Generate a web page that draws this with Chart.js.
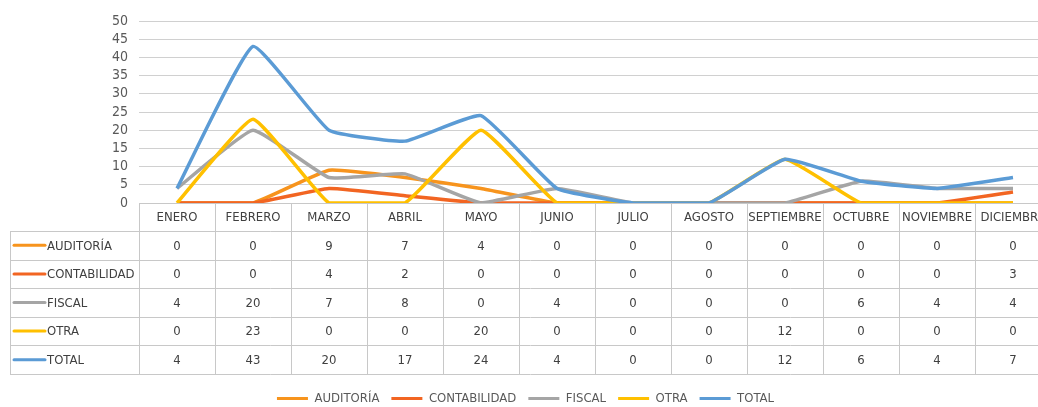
<!DOCTYPE html>
<html>
<head>
<meta charset="utf-8">
<script src="https://cdn.jsdelivr.net/npm/chart.js@4"></script>
<style>
  html, body { margin: 0; padding: 0; background: #fff; overflow: hidden; }
  #wrap { width: 1051px; height: 407px; }
</style>
</head>
<body>
<div id="wrap"><canvas id="grafica"></canvas></div>
<script>
const meses = ["ENERO", "FEBRERO", "MARZO", "ABRIL", "MAYO", "JUNIO", "JULIO", "AGOSTO", "SEPTIEMBRE", "OCTUBRE", "NOVIEMBRE", "DICIEMBRE"];
const auditoria    = [0, 0, 9, 7, 4, 0, 0, 0, 0, 0, 0, 0];
const contabilidad = [0, 0, 4, 2, 0, 0, 0, 0, 0, 0, 0, 3];
const fiscal       = [4, 20, 7, 8, 0, 4, 0, 0, 0, 6, 4, 4];
const otra         = [0, 23, 0, 0, 20, 0, 0, 0, 12, 0, 0, 0];
const total        = [4, 43, 20, 17, 24, 4, 0, 0, 12, 6, 4, 7];
const yTicks = [0, 5, 10, 15, 20, 25, 30, 35, 40, 45, 50];

const fuente = "'Liberation Sans Narrow', 'DejaVu Sans Condensed', 'Open Sans', sans-serif";
const series = [
  { nombre: "AUDITORÍA", datos: auditoria, color: "#F7941D" },
  { nombre: "CONTABILIDAD", datos: contabilidad, color: "#F26522" },
  { nombre: "FISCAL", datos: fiscal, color: "#A5A5A5" },
  { nombre: "OTRA", datos: otra, color: "#FFC000" },
  { nombre: "TOTAL", datos: total, color: "#5B9BD5" }
];

// tabla de datos debajo del gráfico, alineada con la escala x
const tablaPlugin = {
  id: 'tabla',
  afterDraw(chart) {
    const ctx = chart.ctx;
    const x = chart.scales.x;
    const top = chart.chartArea.bottom;
    const colW = (x.right - x.left) / meses.length;
    const headerH = 28;
    const rowH = 28.6;
    const labelLeft = 10;
    ctx.save();
    ctx.strokeStyle = '#c8c8c8';
    ctx.lineWidth = 1;
    // líneas horizontales
    ctx.beginPath();
    ctx.moveTo(x.left, top + 0.5);
    ctx.lineTo(x.right, top + 0.5);
    for (let r = 0; r <= series.length; r++) {
      const y = Math.round(top + headerH + r * rowH) + 0.5;
      ctx.moveTo(labelLeft, y);
      ctx.lineTo(x.right, y);
    }
    // líneas verticales
    const bottom = Math.round(top + headerH + series.length * rowH) + 0.5;
    for (let c = 0; c <= meses.length; c++) {
      const xx = Math.round(x.left + c * colW) + 0.5;
      ctx.moveTo(xx, top);
      ctx.lineTo(xx, bottom);
    }
    ctx.moveTo(labelLeft + 0.5, top + headerH);
    ctx.lineTo(labelLeft + 0.5, bottom);
    ctx.stroke();

    ctx.font = '13px ' + fuente;
    ctx.fillStyle = '#404040';
    ctx.textBaseline = 'middle';
    ctx.textAlign = 'center';
    meses.forEach((m, i) => {
      ctx.fillText(m, x.getPixelForValue(i), top + headerH / 2 + 1);
    });
    series.forEach((s, r) => {
      const yc = top + headerH + r * rowH + rowH / 2 + 1;
      ctx.strokeStyle = s.color;
      ctx.lineWidth = 3;
      ctx.lineCap = 'round';
      ctx.beginPath();
      ctx.moveTo(14, yc - 1);
      ctx.lineTo(45, yc - 1);
      ctx.stroke();
      ctx.textAlign = 'left';
      ctx.fillText(s.nombre, 47, yc);
      ctx.textAlign = 'center';
      s.datos.forEach((v, i) => {
        ctx.fillText(String(v), x.getPixelForValue(i), yc);
      });
    });
    ctx.restore();
  }
};

// la leyenda queda más abajo
const leyendaPlugin = {
  id: 'leyendaAlto',
  beforeInit(chart) {
    const fit = chart.legend.fit;
    chart.legend.fit = function () {
      fit.bind(chart.legend)();
      this.height = 27;
    };
  }
};

const ctx = document.getElementById('grafica').getContext('2d');
new Chart(ctx, {
  type: 'line',
  data: {
    labels: meses,
    datasets: series.map((s, i) => ({
      label: s.nombre,
      data: s.datos,
      borderColor: s.color,
      backgroundColor: s.color,
      borderWidth: 3.5,
      pointRadius: 0,
      tension: 0.12,
      fill: false,
      order: series.length - i
    }))
  },
  options: {
    responsive: true,
    maintainAspectRatio: false,
    animation: false,
    layout: { padding: { top: 21, left: 0, right: 0, bottom: 0 } },
    plugins: {
      tooltip: { enabled: false },
      legend: {
        position: 'bottom',
        labels: {
          boxWidth: 31,
          boxHeight: 3,
          padding: 12,
          color: '#595959',
          font: { family: fuente, size: 13 },
          sort: (a, b) => a.datasetIndex - b.datasetIndex,
          generateLabels(chart) {
            return Chart.defaults.plugins.legend.labels.generateLabels(chart).map(item => {
              item.lineWidth = 0;
              item.fillStyle = item.strokeStyle;
              return item;
            });
          }
        }
      }
    },
    scales: {
      x: {
        offset: true,
        grid: { display: false },
        border: { display: false },
        ticks: { display: false },
        afterFit(scale) { scale.height = 177; }
      },
      y: {
        min: 0,
        max: 50,
        afterBuildTicks(scale) { scale.ticks = yTicks.map(v => ({ value: v })); },
        grid: { color: '#d0d0d0', lineWidth: 1, drawTicks: false },
        border: { display: false },
        ticks: {
          autoSkip: false,
          color: '#595959',
          font: { family: fuente, size: 14 },
          padding: 11
        },
        afterFit(scale) { scale.width = 139; }
      }
    }
  },
  plugins: [tablaPlugin, leyendaPlugin]
});
</script>
</body>
</html>
